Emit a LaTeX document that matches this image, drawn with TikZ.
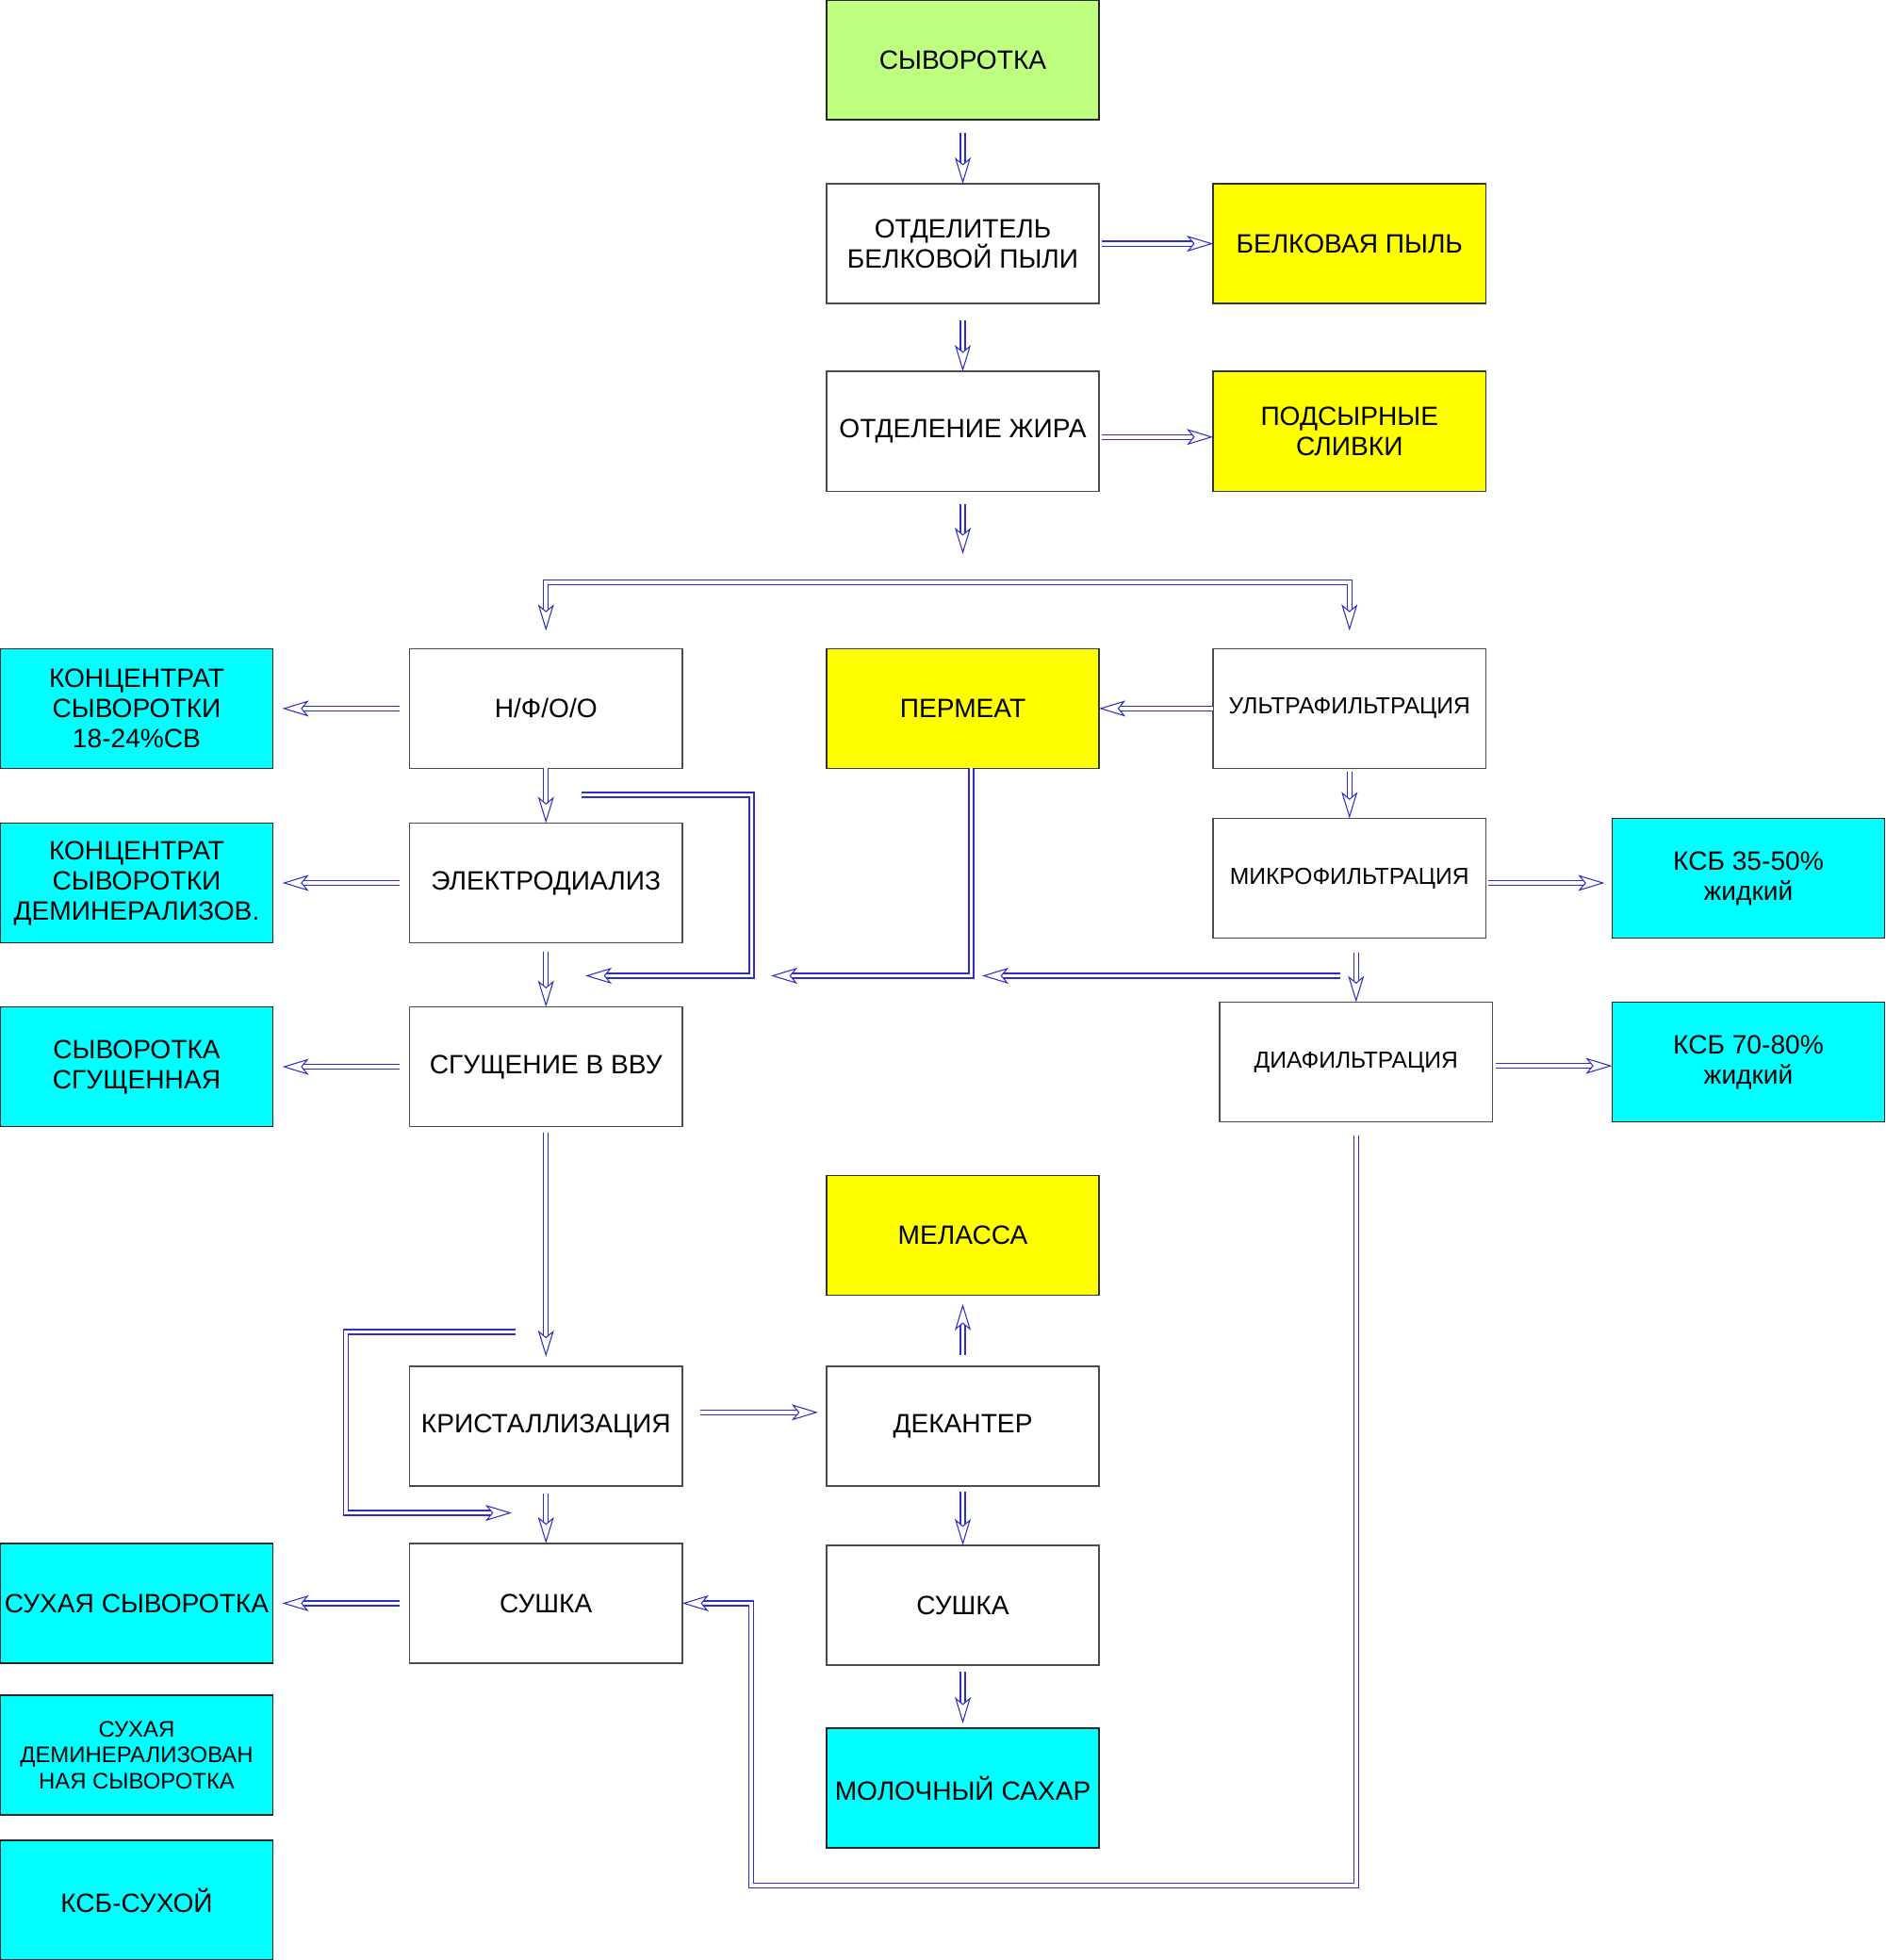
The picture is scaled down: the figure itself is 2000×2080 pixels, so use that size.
\documentclass[tikz,border=0pt]{standalone}
\usepackage{fontspec}
\setmainfont{Liberation Sans}
\usetikzlibrary{positioning, arrows.meta}
\definecolor{wheygreen}{RGB}{191,255,128}
\definecolor{sideyellow}{RGB}{255,255,0}
\definecolor{productcyan}{RGB}{0,255,255}
\definecolor{flowblue}{RGB}{45,45,200}
\tikzstyle{stage} = [
    rectangle,
    minimum width = 2.89cm,
    minimum height = 1.27cm,
    inner xsep = 0.5pt,
    outer sep = 0pt,
    align = center,
    draw = black!70,
    fill = white,
    font = \fontsize{8}{9.1}\selectfont
]
\tikzstyle{feed} = [stage, draw = black!85, fill = wheygreen]
\tikzstyle{side} = [stage, draw = black!80, fill = sideyellow]
\tikzstyle{product} = [stage, draw = black!85, fill = productcyan]
\tikzstyle{small} = [font = \fontsize{7}{8.4}\selectfont]
\tikzstyle{flow} = [
    draw = white,
    line width = .3pt,
    -{Stealth[length = 2.8mm, width = 1.7mm, inset = .7mm,
      color = flowblue, fill = white]},
    preaction = {draw = flowblue, -, double = white,
      double distance = 1.1pt, line width = .35pt, shorten > = 1.4mm}
]

\begin{document}
\begin{tikzpicture}[x = 0.01cm, y = -0.01cm]
    \useasboundingbox (0,0) rectangle (2000,2080);

    \node (whey) [feed] at (1021.5,63.5) {СЫВОРОТКА};

    \node
        (separator)
        [stage, below = 0.68cm of whey]
        {ОТДЕЛИТЕЛЬ\\БЕЛКОВОЙ ПЫЛИ};

    \node
        (protein dust)
        [side, right = 1.21cm of separator]
        {БЕЛКОВАЯ ПЫЛЬ};

    \node
        (fat removal)
        [stage, below = 0.72cm of separator]
        {ОТДЕЛЕНИЕ ЖИРА};

    \node
        (cheese cream)
        [side, right = 1.21cm of fat removal]
        {ПОДСЫРНЫЕ\\СЛИВКИ};

    \node
        (permeate)
        [side, below = 1.67cm of fat removal]
        {ПЕРМЕАТ};

    \node
        (nf ro)
        [stage, left = 1.53cm of permeate]
        {Н/Ф/О/О};

    \node
        (conc whey)
        [product, left = 1.45cm of nf ro]
        {КОНЦЕНТРАТ\\СЫВОРОТКИ\\18-24\%СВ};

    \node
        (ultrafiltration)
        [stage, small, right = 1.21cm of permeate]
        {УЛЬТРАФИЛЬТРАЦИЯ};

    \node
        (electrodialysis)
        [stage, below = 0.58cm of nf ro]
        {ЭЛЕКТРОДИАЛИЗ};

    \node
        (demin conc)
        [product, left = 1.45cm of electrodialysis]
        {КОНЦЕНТРАТ\\СЫВОРОТКИ\\ДЕМИНЕРАЛИЗОВ.};

    \node
        (microfiltration)
        [stage, small, below = 0.53cm of ultrafiltration]
        {МИКРОФИЛЬТРАЦИЯ};

    \node
        (wpc 35)
        [product, right = 1.34cm of microfiltration]
        {КСБ 35-50\%\\жидкий};

    \node
        (evaporation)
        [stage, below = 0.68cm of electrodialysis]
        {СГУЩЕНИЕ В ВВУ};

    \node
        (condensed whey)
        [product, left = 1.45cm of evaporation]
        {СЫВОРОТКА\\СГУЩЕННАЯ};

    \node
        (diafiltration)
        [stage, small, below = 0.68cm of microfiltration, xshift = 0.07cm]
        {ДИАФИЛЬТРАЦИЯ};

    \node
        (wpc 70)
        [product, right = 1.27cm of diafiltration]
        {КСБ 70-80\%\\жидкий};

    \node
        (crystallization)
        [stage, below = 2.54cm of evaporation]
        {КРИСТАЛЛИЗАЦИЯ};

    \node
        (decanter)
        [stage, right = 1.53cm of crystallization]
        {ДЕКАНТЕР};

    \node
        (molasses)
        [side, above = 0.75cm of decanter]
        {МЕЛАССА};

    \node
        (drying whey)
        [stage, below = 0.61cm of crystallization]
        {СУШКА};

    \node
        (drying sugar)
        [stage, below = 0.63cm of decanter]
        {СУШКА};

    \node
        (dry whey)
        [product, left = 1.45cm of drying whey]
        {СУХАЯ СЫВОРОТКА};

    \node
        (dry demin)
        [product, below = 0.34cm of dry whey,
         font = \fontsize{6.8}{7.9}\selectfont]
        {СУХАЯ\\ДЕМИНЕРАЛИЗОВАН\\НАЯ СЫВОРОТКА};

    \node
        (wpc dry)
        [product, below = 0.27cm of dry demin]
        {КСБ-СУХОЙ};

    \node
        (milk sugar)
        [product, below = 0.67cm of drying sugar]
        {МОЛОЧНЫЙ САХАР};

    % free ends of the flows
    \coordinate (split) at (1021.5,588);
    \coordinate (fork) at (1021.5,618);
    \coordinate (bypass in) at (617,843.5);
    \coordinate (bypass out) at (621,1035.5);
    \coordinate (permeate out) at (818,1035.5);
    \coordinate (retentate in) at (1422,1035.5);
    \coordinate (retentate out) at (1042,1035.5);
    \coordinate (mother in) at (547,1413.5);
    \coordinate (mother out) at (543,1605.5);
    \coordinate (return turn) at (797,2001);

    \draw [flow, shorten < = 0.14cm]
        (whey) -- (separator);

    \draw [flow, shorten < = 0.03cm]
        (separator) -- (protein dust);

    \draw [flow, shorten < = 0.18cm]
        (separator) -- (fat removal);

    \draw [flow, shorten < = 0.03cm]
        ([yshift = -0.06cm]fat removal.east) --
        ([yshift = -0.06cm]cheese cream.west);

    \draw [flow, shorten < = 0.14cm]
        (fat removal) -- (split);

    \draw [flow]
        (fork) -| ([yshift = 0.19cm]nf ro.north);

    \draw [flow]
        (fork) -| ([yshift = 0.19cm]ultrafiltration.north);

    \draw [flow, shorten < = 0.11cm]
        (nf ro) -- ([xshift = 0.1cm]conc whey.east);

    \draw [flow]
        (ultrafiltration) -- (permeate);

    \draw [flow]
        (nf ro) -- (electrodialysis);

    \draw [flow]
        (bypass in) -- ++(180.5,0) |- (bypass out);

    \draw [flow, shorten < = 0.11cm]
        (electrodialysis) -- ([xshift = 0.1cm]demin conc.east);

    \draw [flow, shorten < = 0.09cm]
        (electrodialysis) -- (evaporation);

    \draw [flow]
        ([xshift = 0.09cm]permeate.south) |- (permeate out);

    \draw [flow]
        (retentate in) -- (retentate out);

    \draw [flow, shorten < = 0.04cm]
        (ultrafiltration) -- (microfiltration);

    \draw [flow, shorten < = 0.03cm]
        ([yshift = -0.05cm]microfiltration.east) --
        ([yshift = -0.05cm, xshift = -0.08cm]wpc 35.west);

    \draw [flow, shorten < = 0.15cm]
        (microfiltration.south -| diafiltration.north) -- (diafiltration);

    \draw [flow, shorten < = 0.04cm]
        ([yshift = -0.04cm]diafiltration.east) --
        ([yshift = -0.04cm]wpc 70.west);

    \draw [flow, shorten < = 0.11cm]
        (evaporation) -- ([xshift = 0.1cm]condensed whey.east);

    \draw [flow, shorten < = 0.06cm]
        (evaporation) -- ([yshift = 0.1cm]crystallization.north);

    \draw [flow]
        (mother in) -- ++(-180,0) |- (mother out);

    \draw [flow, shorten < = 0.19cm]
        ([yshift = 0.145cm]crystallization.east) --
        ([yshift = 0.145cm, xshift = -0.09cm]decanter.west);

    \draw [flow, shorten < = 0.12cm]
        (decanter) -- ([yshift = -0.09cm]molasses.south);

    \draw [flow, shorten < = 0.08cm]
        (crystallization) -- (drying whey);

    \draw [flow, shorten < = 0.06cm]
        (decanter) -- (drying sugar);

    \draw [flow, shorten < = 0.07cm]
        (drying sugar) -- ([yshift = 0.05cm]milk sugar.north);

    \draw [flow, shorten < = 0.11cm]
        (drying whey) -- ([xshift = 0.1cm]dry whey.east);

    \draw [flow, shorten < = 0.14cm]
        (diafiltration.south) |- (return turn) |- (drying whey.east);

\end{tikzpicture}
\end{document}
